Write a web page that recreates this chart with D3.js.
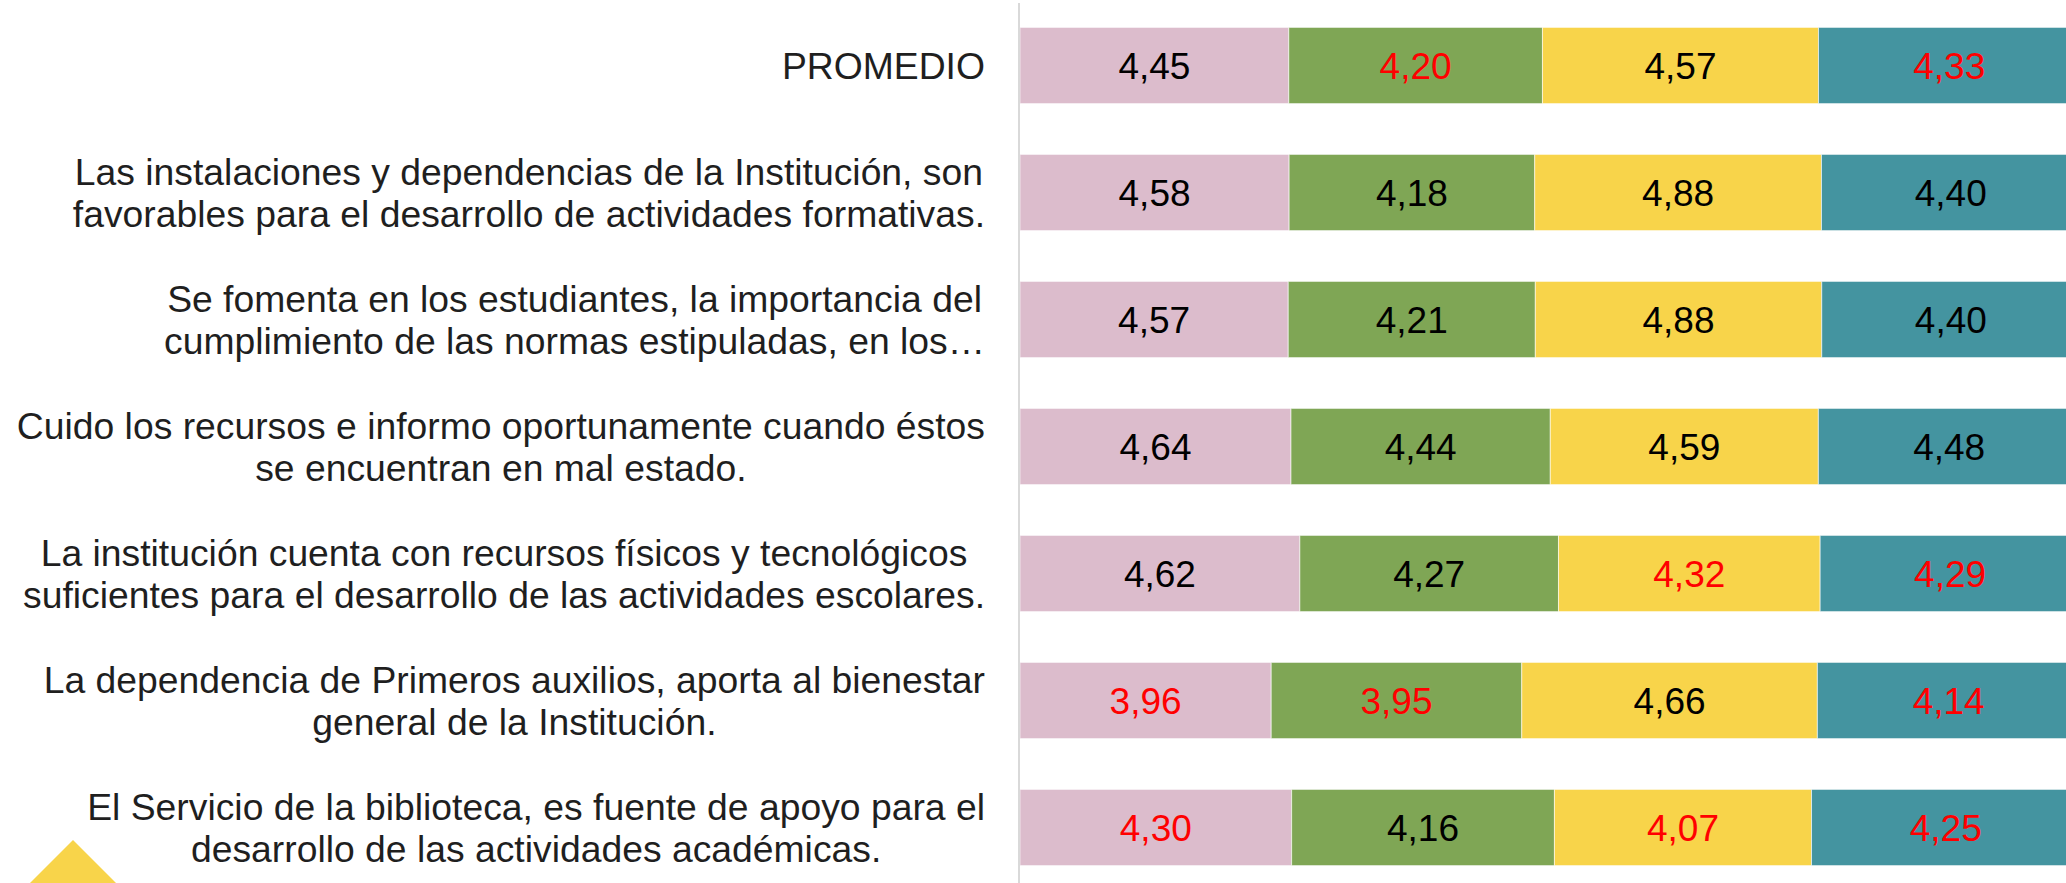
<!DOCTYPE html>
<html>
<head>
<meta charset="utf-8">
<script src="https://cdn.jsdelivr.net/npm/d3@7"></script>
<style>
  html, body { margin: 0; padding: 0; background: #fff; overflow: hidden; }
  svg { display: block; font-family: "Liberation Sans", Arial, sans-serif; }
</style>
</head>
<body>
<svg id="canvas"></svg>
<script>
// category labels, one entry per line of text
let categories = [
  ['PROMEDIO'],
  ['Las instalaciones y dependencias de la Institución, son', 'favorables para el desarrollo de actividades formativas.'],
  ['Se fomenta en los estudiantes, la importancia del', 'cumplimiento de las normas estipuladas, en los…'],
  ['Cuido los recursos e informo oportunamente cuando éstos', 'se encuentran en mal estado.'],
  ['La institución cuenta con recursos físicos y tecnológicos', 'suficientes para el desarrollo de las actividades escolares.'],
  ['La dependencia de Primeros auxilios, aporta al bienestar', 'general de la Institución.'],
  ['El Servicio de la biblioteca, es fuente de apoyo para el', 'desarrollo de las actividades académicas.']
]

let seriesKeys = ['s1', 's2', 's3', 's4']

let s1 = [4.45, 4.58, 4.57, 4.64, 4.62, 3.96, 4.30]
let s2 = [4.20, 4.18, 4.21, 4.44, 4.27, 3.95, 4.16]
let s3 = [4.57, 4.88, 4.88, 4.59, 4.32, 4.66, 4.07]
let s4 = [4.33, 4.40, 4.40, 4.48, 4.29, 4.14, 4.25]

// values shown in red in the original
let flagged1 = [false, false, false, false, false, true, true]
let flagged2 = [true, false, false, false, false, true, false]
let flagged3 = [false, false, false, false, true, false, true]
let flagged4 = [true, false, false, false, true, true, true]

let w = 2066
let h = 883

let colors = ['#dcbccc', '#7fa655', '#f8d44a', '#4494a0']

let canvas = d3.select('#canvas')
canvas.attr('width', w).attr('height', h)

let values = [s1, s2, s3, s4]
let flags = [flagged1, flagged2, flagged3, flagged4]

let rows = categories.map((c, i) => {
    let row = { idx: i }
    seriesKeys.forEach((k, j) => { row[k] = values[j][i] })
    return row
})

let stacked = d3.stack()
    .keys(seriesKeys)
    .offset(d3.stackOffsetExpand)(rows)

let xScale = d3.scaleLinear()
    .domain([0, 1])
    .range([1020, 2080])

let yScale = d3.scaleBand()
    .domain(d3.range(categories.length))
    .range([2, 891])
    .paddingInner(0.4)
    .paddingOuter(0.2)

// decorative triangle bottom left
canvas.append('path')
    .attr('d', 'M73,840 L118,885 L28,885 Z')
    .attr('fill', '#f8d44a')

let layers = canvas.selectAll('g.layer')
    .data(stacked)
    .enter()
    .append('g')
    .attr('class', 'layer')
    .attr('fill', (d, i) => colors[i])

layers.selectAll('rect')
    .data(d => d)
    .enter()
    .append('rect')
    .attr('x', d => xScale(d[0]))
    .attr('y', d => yScale(d.data.idx))
    .attr('width', d => xScale(d[1]) - xScale(d[0]))
    .attr('height', yScale.bandwidth())
    .attr('stroke', '#fff')
    .attr('stroke-width', 1)
    .attr('stroke-opacity', 0.6)

let fmt = v => v.toFixed(2).replace('.', ',')

layers.each(function(layer, li) {
    d3.select(this).selectAll('text')
        .data(layer)
        .enter()
        .append('text')
        .attr('x', d => (xScale(d[0]) + xScale(d[1])) / 2)
        .attr('y', d => yScale(d.data.idx) + yScale.bandwidth() / 2)
        .attr('dy', '0.36em')
        .attr('text-anchor', 'middle')
        .attr('font-size', 37)
        .attr('fill', d => flags[li][d.data.idx] ? '#ff0000' : '#000')
        .text(d => fmt(d.data[layer.key]))
})

// axis line
canvas.append('line')
    .attr('x1', 1019).attr('x2', 1019)
    .attr('y1', 3).attr('y2', h)
    .attr('stroke', '#d9d9d9')
    .attr('stroke-width', 2)

// category labels: each block centred, widest line ending at labelRight
let labelRight = 985
let lineH = 42.5

categories.forEach((lines, i) => {
    let g = canvas.append('g')
    let cy = yScale(i) + yScale.bandwidth() / 2
    let texts = lines.map((t, j) => g.append('text')
        .attr('font-size', 37.3)
        .attr('fill', '#1f1f1f')
        .attr('text-anchor', 'middle')
        .attr('y', cy + (j - (lines.length - 1) / 2) * lineH)
        .attr('dy', '0.36em')
        .text(t))
    let maxW = d3.max(texts, t => t.node().getComputedTextLength())
    texts.forEach(t => t.attr('x', labelRight - maxW / 2))
})
</script>
</body>
</html>
